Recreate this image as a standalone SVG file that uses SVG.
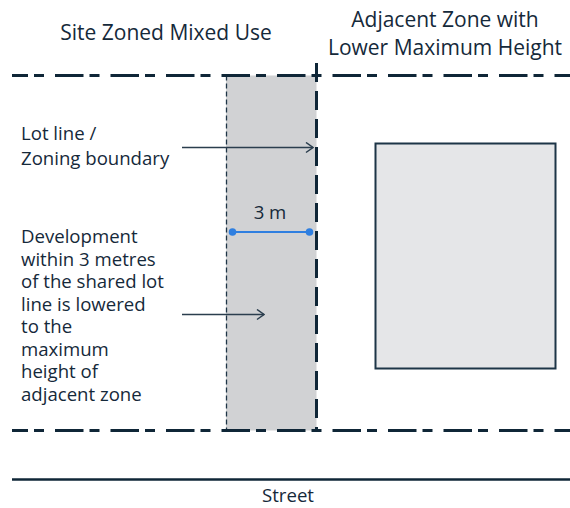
<svg xmlns="http://www.w3.org/2000/svg" width="570" height="508" viewBox="0 0 570 508">
<defs>
<style>
text{font-family:"Open Sans","Noto Sans",sans-serif;fill:#15293a}
.t{font-size:21px}
.b{font-size:18.6px}
.zone{stroke:#0f2637;stroke-width:3;fill:none;stroke-dasharray:28.5 6 10 11;stroke-dashoffset:12.5}
.lead{stroke:#2b3e4e;stroke-width:1.5;fill:none}
</style>
<marker id="chev" viewBox="0 0 10 12" refX="9" refY="6" markerWidth="10" markerHeight="12" markerUnits="userSpaceOnUse" orient="auto">
<path d="M2,1 L9,6 L2,11" fill="none" stroke="#2b3e4e" stroke-width="1.5"/>
</marker>
</defs>
<rect width="570" height="508" fill="#ffffff"/>
<g id="titles">
<text class="t" x="166" y="40" text-anchor="middle">Site Zoned Mixed Use</text>
<text class="t" x="445" y="27" text-anchor="middle">Adjacent Zone with</text>
<text class="t" x="445" y="55" text-anchor="middle">Lower Maximum Height</text>
</g>
<g id="setback-area">
<rect x="226" y="75.5" width="90.5" height="355" fill="#d1d2d4"/>
<line x1="226.5" y1="75.5" x2="226.5" y2="430.5" stroke="#1f3547" stroke-width="1.3" stroke-dasharray="5 3"/>
</g>
<g id="adjacent-building">
<rect x="375.5" y="143.5" width="180" height="225" fill="#e5e6e8" stroke="#1d3547" stroke-width="2"/>
</g>
<g id="boundaries">
<line class="zone" x1="12" y1="75.5" x2="570" y2="75.5"/>
<line class="zone" x1="12" y1="430.5" x2="570" y2="430.5"/>
<line x1="316.5" y1="63" x2="316.5" y2="430" stroke="#0f2637" stroke-width="3" stroke-dasharray="19 9"/>
<line x1="12" y1="479.5" x2="570" y2="479.5" stroke="#0f2637" stroke-width="2.5"/>
</g>
<g id="dimension">
<line x1="232.5" y1="232" x2="309.5" y2="232" stroke="#2f7fe0" stroke-width="2"/>
<circle cx="232.5" cy="232" r="3.8" fill="#2f7fe0"/>
<circle cx="309.5" cy="232" r="3.8" fill="#2f7fe0"/>
<text class="b" x="270" y="219" text-anchor="middle">3 m</text>
</g>
<g id="label-lot-line">
<text class="b" x="21" y="140">Lot line /</text>
<text class="b" x="21" y="165">Zoning boundary</text>
</g>
<g id="label-development">
<text class="b" x="21" y="243">Development</text>
<text class="b" x="21" y="265.5">within 3 metres</text>
<text class="b" x="21" y="288">of the shared lot</text>
<text class="b" x="21" y="310.5">line is lowered</text>
<text class="b" x="21" y="333">to the</text>
<text class="b" x="21" y="355.5">maximum</text>
<text class="b" x="21" y="378">height of</text>
<text class="b" x="21" y="400.5">adjacent zone</text>
</g>
<g id="label-street">
<text class="b" x="288" y="502" text-anchor="middle">Street</text>
</g>
<g id="connectors">
<line class="lead" x1="182" y1="147.5" x2="313" y2="147.5" marker-end="url(#chev)"/>
<line class="lead" x1="182" y1="314.5" x2="264" y2="314.5" marker-end="url(#chev)"/>
</g>
</svg>
